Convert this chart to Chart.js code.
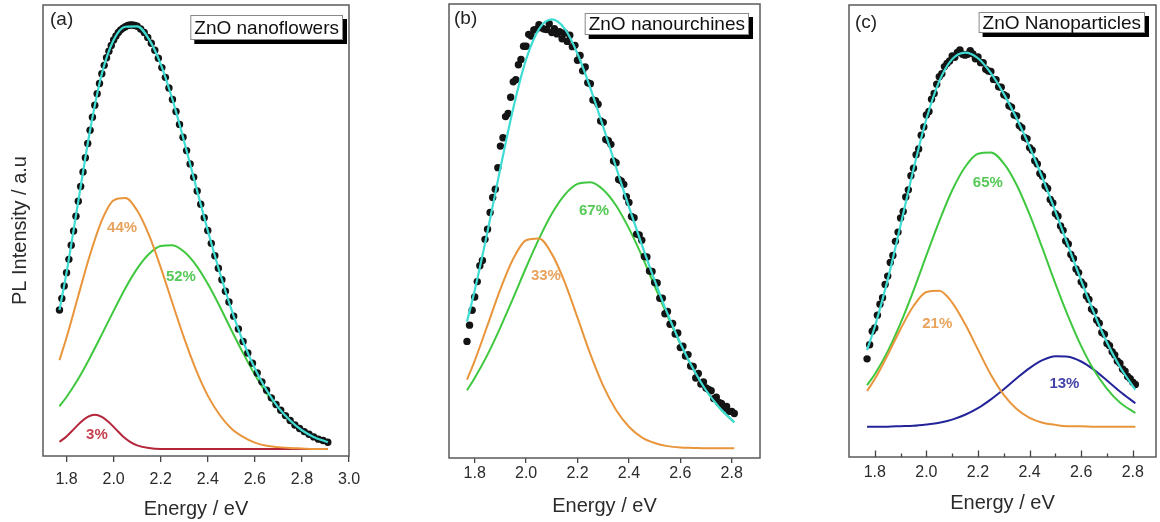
<!DOCTYPE html>
<html>
<head>
<meta charset="utf-8">
<script src="https://cdn.jsdelivr.net/npm/chart.js@4.4.1/dist/chart.umd.min.js"></script>
<style>
  body { margin: 0; background: #fff; }
  canvas { position: absolute; top: 0; }
</style>
</head>
<body>
<canvas id="panelA" width="370" height="522" style="left:0"></canvas>
<canvas id="panelB" width="370" height="522" style="left:400px"></canvas>
<canvas id="panelC" width="360" height="522" style="left:800px"></canvas>
<script>
// ---- (a) ZnO nanoflowers ----
const ticksA = [1.8, 2.0, 2.2, 2.4, 2.6, 2.8, 3.0];
const gridA = [1.77, 1.80, 1.85, 1.90, 1.95, 2.00, 2.05, 2.10, 2.15, 2.20, 2.25, 2.30,
               2.35, 2.40, 2.45, 2.50, 2.55, 2.60, 2.65, 2.70, 2.75, 2.80, 2.85, 2.91];
const fitA = [31.3, 39.7, 55.8, 71.8, 84.5, 92.1, 95.1, 95.2, 92.3, 86.7, 78.7, 69.2,
              59.1, 49.2, 39.9, 31.5, 24.2, 18.1, 13.2, 9.3, 6.4, 4.2, 2.7, 1.5];
const orangeA = [20.0, 25.1, 34.5, 43.8, 51.5, 56.0, 56.5, 53.7, 48.2, 40.9, 32.8, 24.9,
                 17.8, 12.0, 7.7, 4.6, 2.7, 1.4, 0.7, 0.4, 0.2, 0.1, 0.0, 0.0];
const greenA = [9.6, 11.7, 15.8, 20.6, 25.8, 31.1, 36.2, 40.6, 43.9, 45.7, 45.9, 44.4,
                41.4, 37.2, 32.2, 26.8, 21.6, 16.7, 12.5, 9.0, 6.2, 4.2, 2.7, 1.5];
const redGridA = [1.77, 1.80, 1.83, 1.86, 1.89, 1.92, 1.95, 1.98, 2.01, 2.04, 2.07, 2.10,
                  2.15, 2.20, 2.30, 2.50, 2.70, 2.91];
const redA = [1.6, 2.8, 4.4, 6.0, 7.2, 7.7, 7.2, 6.0, 4.4, 2.8, 1.6, 0.8,
              0.2, 0.0, 0.0, 0.0, 0.0, 0.0];
const dotEnergyA = [
  1.77, 1.78, 1.79, 1.80, 1.81, 1.82, 1.83, 1.84, 1.85, 1.86, 1.87, 1.88, 1.89, 1.90, 1.91, 1.92, 1.93,
  1.94, 1.95, 1.96, 1.97, 1.98, 1.99, 2.00, 2.01, 2.02, 2.03, 2.04, 2.05, 2.06, 2.07, 2.08, 2.09, 2.10,
  2.115, 2.13, 2.145, 2.16, 2.175, 2.19, 2.205, 2.22, 2.235, 2.25, 2.265, 2.28, 2.295, 2.31, 2.325,
  2.34, 2.355, 2.37, 2.385, 2.40, 2.415, 2.43, 2.445, 2.46, 2.475, 2.49,
  2.51, 2.53, 2.55, 2.57, 2.59, 2.61, 2.63, 2.65, 2.67, 2.69, 2.71, 2.73, 2.75, 2.77, 2.79, 2.81,
  2.83, 2.85, 2.87, 2.89, 2.91];
const dotIntensityA = [
  31.3, 33.9, 36.7, 39.7, 42.7, 45.9, 49.1, 52.4, 55.8, 59.1, 62.4, 65.6, 68.8, 71.8, 74.7, 77.4, 80.0,
  82.3, 84.5, 86.4, 88.1, 89.6, 90.9, 92.1, 93.0, 93.8, 94.4, 94.8, 95.1, 95.4, 95.5, 95.5, 95.4, 95.2,
  94.6, 93.8, 92.7, 91.4, 89.8, 88.0, 85.9, 83.7, 81.3, 78.7, 76.0, 73.1, 70.2, 67.2, 64.2,
  61.2, 58.1, 55.1, 52.1, 49.2, 46.3, 43.5, 40.7, 38.1, 35.5, 33.1,
  29.9, 27.0, 24.2, 21.6, 19.3, 17.1, 15.1, 13.2, 11.5, 10.0, 8.7, 7.5, 6.4, 5.4, 4.6, 3.9,
  3.3, 2.7, 2.2, 1.9, 1.5];
const pctTextA = ['44%', '52%', '3%'];
const pctEnergyA = [2.036, 2.286, 1.929];
const pctIntensityA = [49.8, 38.7, 3.2];

// ---- (b) ZnO nanourchines ----
const ticksBC = [1.8, 2.0, 2.2, 2.4, 2.6, 2.8];
const gridBC = [1.77, 1.80, 1.85, 1.90, 1.95, 2.00, 2.05, 2.10, 2.15, 2.20, 2.25,
                2.30, 2.35, 2.40, 2.45, 2.50, 2.55, 2.60, 2.65, 2.70, 2.75, 2.81];
const fitB = [28.8, 35.9, 49.3, 63.7, 77.3, 88.4, 95.3, 97.5, 95.4, 89.7, 81.9,
              73.1, 63.9, 54.9, 46.3, 38.2, 30.6, 23.9, 18.1, 13.2, 9.4, 5.9];
const orangeB = [15.6, 19.9, 28.0, 36.2, 43.1, 47.3, 47.7, 44.2, 37.8, 29.7, 21.4,
                 14.2, 8.7, 4.9, 2.5, 1.2, 0.5, 0.2, 0.1, 0.0, 0.0, 0.0];
const greenB = [13.2, 16.0, 21.3, 27.5, 34.2, 41.1, 47.6, 53.3, 57.6, 60.1, 60.5,
                58.8, 55.2, 50.0, 43.8, 36.9, 30.1, 23.7, 18.0, 13.2, 9.4, 5.9];
const dotEnergyBC = [
  1.77, 1.78, 1.79, 1.80, 1.81, 1.82, 1.83, 1.84, 1.85, 1.86, 1.87, 1.88, 1.89, 1.90, 1.91,
  1.92, 1.93, 1.94, 1.95, 1.96, 1.97, 1.98, 1.99, 2.00, 2.01, 2.02, 2.03, 2.04, 2.05, 2.06,
  2.07, 2.08, 2.09, 2.10, 2.11, 2.12, 2.13, 2.14, 2.15, 2.16, 2.17, 2.18, 2.19, 2.20, 2.21,
  2.22, 2.23, 2.24, 2.25, 2.26, 2.27, 2.28, 2.29, 2.30, 2.31, 2.32, 2.33, 2.34, 2.35, 2.36,
  2.37, 2.38, 2.39, 2.40, 2.41, 2.42, 2.43, 2.44, 2.45, 2.46, 2.47, 2.48, 2.49, 2.50, 2.51,
  2.52, 2.53, 2.54, 2.55, 2.56, 2.57, 2.58, 2.59, 2.60, 2.61, 2.62, 2.63, 2.64, 2.65, 2.66,
  2.67, 2.68, 2.69, 2.70, 2.71, 2.72, 2.73, 2.74, 2.75, 2.76, 2.77, 2.78, 2.79, 2.80, 2.81];
const dotIntensityB = [
  24.3, 28.0, 31.4, 34.4, 37.9, 41.5, 42.7, 47.5, 49.8, 53.6,
  57.0, 58.9, 63.8, 68.7, 70.6, 75.4, 76.1, 79.8, 83.3, 83.8,
  87.2, 88.4, 91.4, 91.4, 94.1, 93.7, 95.1, 95.3, 96.3, 95.6,
  95.3, 95.2, 96.5, 94.5, 95.4, 94.2, 94.7, 93.1, 94.4, 92.5,
  93.9, 91.3, 91.6, 88.2, 89.3, 85.8, 86.7, 83.1, 82.9, 79.2,
  79.0, 78.2, 74.4, 74.1, 70.2, 69.9, 69.1, 65.3, 64.9, 61.1,
  60.8, 60.0, 57.2, 55.9, 52.7, 52.4, 48.7, 48.5, 47.3, 43.6,
  43.5, 40.3, 40.2, 37.7, 37.6, 34.1, 34.1, 30.6, 31.1, 28.2,
  28.4, 26.0, 26.2, 22.9, 23.2, 21.0, 21.3, 18.7, 18.6, 16.0,
  17.0, 14.6, 15.1, 13.7, 13.4, 13.1, 11.3, 11.6, 10.4, 10.2,
  9.1, 9.5, 8.4, 8.4, 7.9];
const pctTextB = ['33%', '67%'];
const pctEnergyB = [2.077, 2.264];
const pctIntensityB = [39.2, 53.9];

// ---- (c) ZnO Nanoparticles ----
const minorTicksC = [1.9, 2.1, 2.3, 2.5, 2.7];
const fitC = [17.4, 22.7, 33.4, 45.8, 58.5, 69.9, 78.5, 83.5, 85.0, 83.7, 80.3,
              75.6, 70.0, 63.6, 56.5, 48.9, 41.0, 33.2, 25.8, 19.1, 13.6, 8.4];
const orangeC = [8.1, 10.8, 16.3, 22.2, 27.4, 30.6, 30.9, 28.2, 23.3, 17.5, 11.8,
                 7.2, 4.0, 2.0, 0.9, 0.4, 0.1, 0.1, 0.0, 0.0, 0.0, 0.0];
const greenC = [9.4, 11.9, 17.1, 23.5, 30.9, 38.9, 46.7, 53.7, 59.0, 62.0, 62.3,
                59.8, 54.9, 48.2, 40.5, 32.5, 25.0, 18.3, 12.8, 8.6, 5.5, 3.1];
const blueC = [0.0, 0.0, 0.0, 0.1, 0.2, 0.5, 0.9, 1.6, 2.7, 4.2, 6.2,
               8.5, 11.0, 13.3, 15.1, 16.0, 15.9, 14.8, 12.9, 10.5, 8.0, 5.3];
const dotIntensityC = [
  15.4, 18.6, 21.7, 22.4, 25.3, 27.8, 29.3, 32.3, 34.2, 37.3,
  38.9, 42.1, 44.2, 47.4, 48.9, 52.2, 53.8, 57.0, 58.7, 61.8,
  63.1, 66.2, 68.1, 70.8, 71.6, 74.4, 75.7, 77.8, 79.5, 80.2,
  81.8, 82.5, 83.1, 84.2, 83.9, 85.0, 85.6, 84.6, 84.4, 84.6,
  85.4, 84.7, 83.6, 84.0, 82.7, 82.7, 81.2, 80.8, 80.7, 78.9,
  78.8, 77.2, 77.1, 75.4, 75.1, 72.9, 72.6, 70.8, 70.6, 68.4,
  67.9, 65.7, 65.4, 63.4, 62.8, 60.4, 59.7, 57.5, 56.9, 54.7,
  54.1, 51.6, 50.8, 48.4, 47.8, 45.6, 44.6, 42.2, 41.5, 39.1,
  38.2, 35.8, 35.0, 32.9, 32.2, 29.7, 28.9, 26.7, 26.2, 24.2,
  23.5, 21.4, 21.0, 18.9, 18.4, 17.0, 16.3, 14.9, 14.4, 13.1,
  12.6, 11.4, 10.9, 10.1, 9.6];
const pctTextC = ['65%', '21%', '13%'];
const pctEnergyC = [2.238, 2.042, 2.535];
const pctIntensityC = [55.5, 23.3, 9.7];

const FONT = '"Liberation Sans", Arial, sans-serif';
const INK = '#2b2b2b';
const COL = {
  fit: '#3fdcd4', dot: '#141414',
  orange: '#e8953c', green: '#3fc83f', red: '#b3263a', blue: '#24249a'
};
const PCT = { orange: '#e8a35c', green: '#56c956', red: '#c4404f', blue: '#4343aa' };

Chart.defaults.font.family = FONT;
Chart.defaults.color = INK;

const pts = (xs, ys) => xs.map((x, i) => ({ x: x, y: ys[i] }));

function curve(xs, ys, color, width, order) {
  return {
    data: pts(xs, ys), showLine: true, borderColor: color, borderWidth: width,
    pointRadius: 0, cubicInterpolationMode: 'monotone', order: order
  };
}

function dots(xs, ys) {
  return {
    data: pts(xs, ys), showLine: false, pointRadius: 3.7,
    pointBackgroundColor: COL.dot, pointBorderWidth: 0, order: 1
  };
}

// box around the plot area
const framePlugin = {
  id: 'frame',
  afterDraw(chart) {
    const { ctx, chartArea: a } = chart;
    ctx.save();
    ctx.strokeStyle = '#5a5a5a';
    ctx.lineWidth = 1.5;
    ctx.strokeRect(a.left, a.top, a.right - a.left, a.bottom - a.top);
    ctx.restore();
  }
};

// panel letter, sample name box and the share of each component
const notesPlugin = {
  id: 'notes',
  afterDatasetsDraw(chart, args, o) {
    const { ctx, chartArea: a, scales: { x, y } } = chart;
    ctx.save();
    ctx.font = 'bold 15px ' + FONT;
    ctx.textAlign = 'center';
    ctx.textBaseline = 'middle';
    o.pctText.forEach((t, i) => {
      ctx.fillStyle = o.pctColor[i];
      ctx.fillText(t, x.getPixelForValue(o.pctE[i]), y.getPixelForValue(o.pctI[i]));
    });

    ctx.font = '19px ' + FONT;
    ctx.textAlign = 'left';
    ctx.fillStyle = '#222';
    ctx.fillText(o.letter, a.left + o.letterDx, a.top + o.letterDy);

    const w = ctx.measureText(o.name).width + 8;
    const bx = a.right - o.boxDx - w;
    const by = a.top + o.boxDy;
    ctx.fillStyle = '#000';
    ctx.fillRect(bx + 4, by + 4, w, o.boxH);
    ctx.fillStyle = '#fff';
    ctx.fillRect(bx, by, w, o.boxH);
    ctx.strokeStyle = '#8a8a8a';
    ctx.lineWidth = 1;
    ctx.strokeRect(bx + 0.5, by + 0.5, w - 1, o.boxH - 1);
    ctx.fillStyle = '#111';
    ctx.fillText(o.name, bx + 4, by + o.boxH / 2 + 1);
    ctx.restore();
  }
};

// inward major/minor ticks on the bottom edge
const innerTicksPlugin = {
  id: 'innerTicks',
  afterDraw(chart, args, o) {
    const { ctx, chartArea: a, scales: { x } } = chart;
    ctx.save();
    ctx.strokeStyle = '#444';
    ctx.lineWidth = 1.3;
    ctx.beginPath();
    o.major.forEach(v => {
      const px = Math.round(x.getPixelForValue(v)) + 0.5;
      ctx.moveTo(px, a.bottom); ctx.lineTo(px, a.bottom - 6.5);
    });
    o.minor.forEach(v => {
      const px = Math.round(x.getPixelForValue(v)) + 0.5;
      ctx.moveTo(px, a.bottom); ctx.lineTo(px, a.bottom - 3.5);
    });
    ctx.stroke();
    ctx.restore();
  }
};

function panel(id, p) {
  return new Chart(document.getElementById(id), {
    type: 'scatter',
    data: { datasets: p.datasets },
    options: {
      responsive: false,
      animation: false,
      events: [],
      layout: { padding: { left: 0, right: p.padRight, top: p.padTop, bottom: 0 } },
      plugins: { legend: { display: false }, tooltip: { enabled: false }, notes: p.notes,
                 innerTicks: p.innerTicks || {} },
      scales: {
        x: {
          type: 'linear', min: p.xMin, max: p.xMax,
          afterBuildTicks: s => { s.ticks = p.ticks.map(v => ({ value: v })); },
          afterFit: s => { s.height = p.xHeight; },
          grid: { display: p.outerTicks, drawOnChartArea: false, drawTicks: p.outerTicks,
                  tickLength: p.tickLength, color: '#444', lineWidth: 1.3 },
          border: { display: false },
          ticks: { color: INK, font: { size: 16 }, padding: p.tickPad, maxRotation: 0,
                   autoSkip: false, callback: v => v.toFixed(1) },
          title: { display: true, text: 'Energy / eV', color: INK, font: { size: 20 },
                   padding: { top: 0, bottom: p.titlePad } }
        },
        y: {
          type: 'linear', min: p.yMin, max: p.yMax,
          afterFit: s => { s.width = p.yWidth; },
          grid: { display: false },
          border: { display: false },
          ticks: { display: false },
          title: { display: p.yTitle, text: 'PL Intensity / a.u', color: INK, font: { size: 20 },
                   padding: { top: 8, bottom: 0 } }
        }
      }
    },
    plugins: p.innerTicks ? [framePlugin, notesPlugin, innerTicksPlugin] : [framePlugin, notesPlugin]
  });
}

panel('panelA', {
  xMin: 1.70, xMax: 3.0, yMin: -1.6, yMax: 100, ticks: ticksA,
  padTop: 5, padRight: 21, xHeight: 66, yWidth: 43, yTitle: true,
  outerTicks: true, tickLength: 6, tickPad: 8, titlePad: 1,
  datasets: [
    curve(gridA, fitA, COL.fit, 2.2, 0),
    dots(dotEnergyA, dotIntensityA),
    curve(gridA, orangeA, COL.orange, 2, 2),
    curve(gridA, greenA, COL.green, 2, 3),
    curve(redGridA, redA, COL.red, 2, 4)
  ],
  notes: {
    pctText: pctTextA, pctE: pctEnergyA, pctI: pctIntensityA,
    pctColor: [PCT.orange, PCT.green, PCT.red],
    letter: '(a)', letterDx: 7, letterDy: 15,
    name: 'ZnO nanoflowers', boxDx: 6, boxDy: 10, boxH: 25
  }
});

panel('panelB', {
  xMin: 1.70, xMax: 2.91, yMin: -2.2, yMax: 101, ticks: ticksBC,
  padTop: 4, padRight: 10, xHeight: 64, yWidth: 49, yTitle: false,
  outerTicks: true, tickLength: 5, tickPad: 1, titlePad: 4,
  datasets: [
    curve(gridBC, fitB, COL.fit, 2.2, 0),
    dots(dotEnergyBC, dotIntensityB),
    curve(gridBC, orangeB, COL.orange, 2, 2),
    curve(gridBC, greenB, COL.green, 2, 3)
  ],
  notes: {
    pctText: pctTextB, pctE: pctEnergyB, pctI: pctIntensityB,
    pctColor: [PCT.orange, PCT.green],
    letter: '(b)', letterDx: 5, letterDy: 14.5,
    name: 'ZnO nanourchines', boxDx: 11, boxDy: 9, boxH: 22
  }
});

panel('panelC', {
  xMin: 1.70, xMax: 2.89, yMin: -6.9, yMax: 95.8, ticks: ticksBC,
  padTop: 5, padRight: 2, xHeight: 65, yWidth: 49, yTitle: false,
  outerTicks: false, tickLength: 0, tickPad: 6, titlePad: 7,
  innerTicks: { major: ticksBC, minor: minorTicksC },
  datasets: [
    curve(gridBC, fitC, COL.fit, 2.2, 0),
    dots(dotEnergyBC, dotIntensityC),
    curve(gridBC, orangeC, COL.orange, 2, 2),
    curve(gridBC, greenC, COL.green, 2, 3),
    curve(gridBC, blueC, COL.blue, 2, 4)
  ],
  notes: {
    pctText: pctTextC, pctE: pctEnergyC, pctI: pctIntensityC,
    pctColor: [PCT.green, PCT.orange, PCT.blue],
    letter: '(c)', letterDx: 6, letterDy: 18,
    name: 'ZnO Nanoparticles', boxDx: 11, boxDy: 7, boxH: 21
  }
});
</script>
</body>
</html>
